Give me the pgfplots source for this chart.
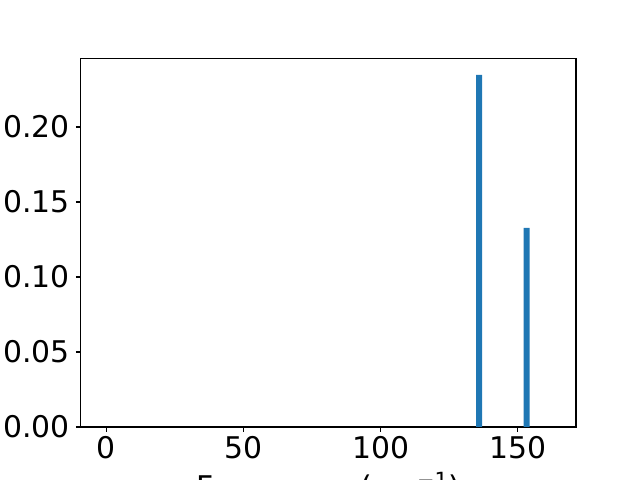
\documentclass[border=0pt]{standalone}
\usepackage{fontspec}
\setmainfont{DejaVu Sans}
\usepackage{pgfplots}
\pgfplotsset{compat=1.18}
\definecolor{c0}{HTML}{1F77B4}
\begin{document}
\begin{tikzpicture}[x=1pt,y=1pt]
\useasboundingbox (0,0) rectangle (460.8,345.6);
\begin{axis}[
  at={(58.1pt,38.16pt)}, anchor=south west,
  width=356.6pt, height=265.5pt, scale only axis,
  xmin=-9.33, xmax=171.2, ymin=0, ymax=0.2458,
  xtick={0,50,100,150}, ytick={0,0.05,0.10,0.15,0.20},
  yticklabel style={/pgf/number format/fixed, /pgf/number format/fixed zerofill, /pgf/number format/precision=2, xshift=-0.8pt},
  /pgf/number format/assume math mode=true,
  ticklabel style={font=\fontsize{21.5}{25}\selectfont},
  tick align=outside, tick pos=left,
  major tick length=3.5pt,
  every tick/.style={black, line width=0.8pt},
  axis line style={line width=0.8pt},
  xlabel={Frequency (cm\textsuperscript{−1})},
  xlabel style={font=\fontsize{21.5}{25}\selectfont, at={(axis description cs:0.5,0)}, anchor=base, yshift=-51pt},
]
\addplot[ybar, bar width=2.2, fill=c0, draw=none] coordinates {(135.9,0.2347) (153.2,0.1327)};
\end{axis}
\end{tikzpicture}
\end{document}
